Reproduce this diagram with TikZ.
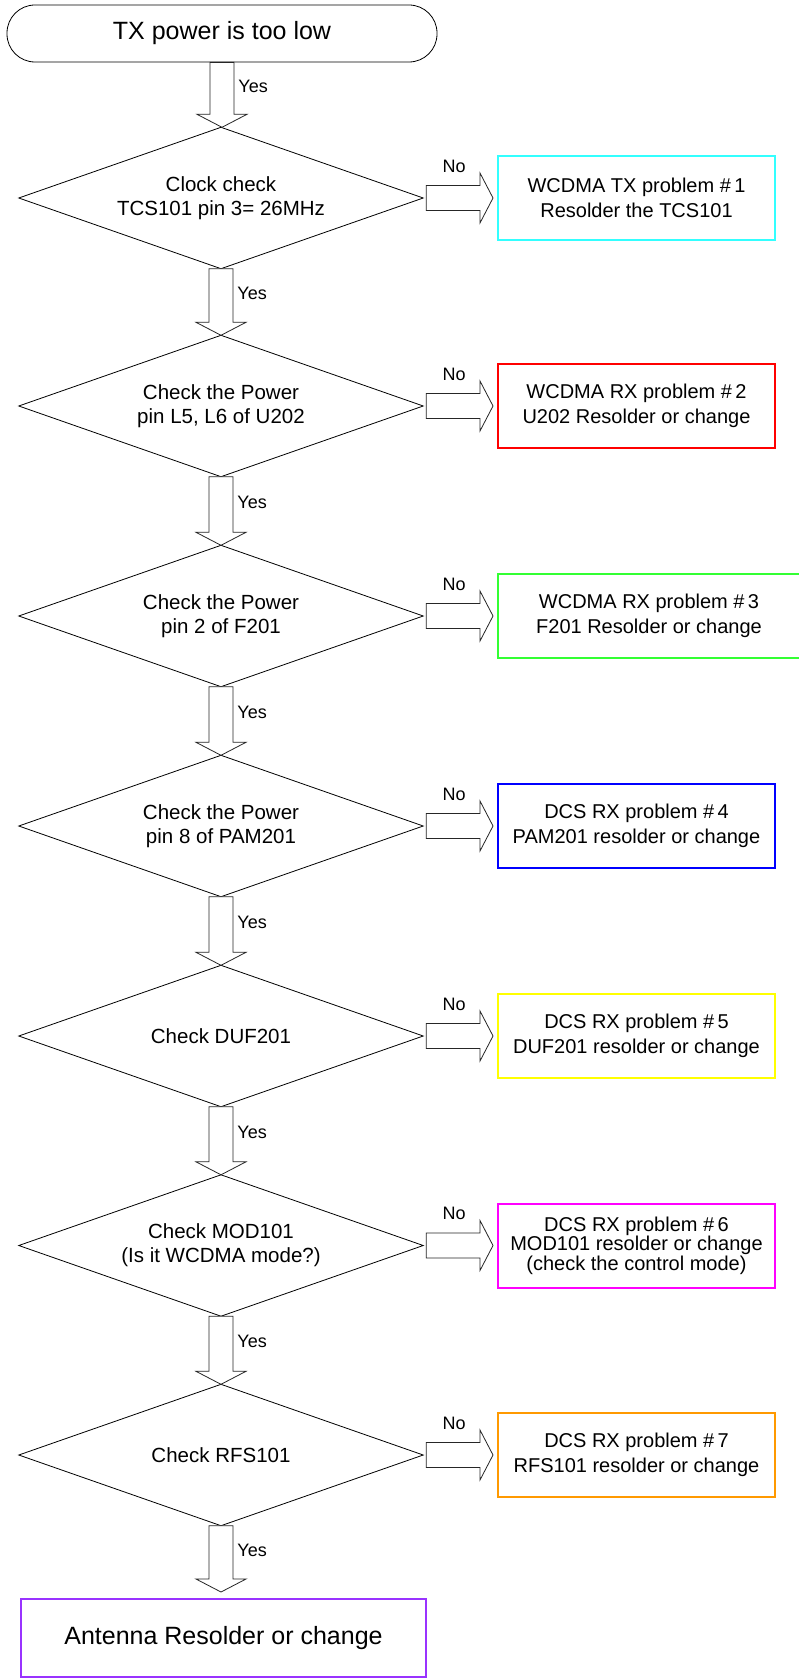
\documentclass[tikz,border=0pt]{standalone}
\usepackage{fontspec}
\setmainfont{Liberation Sans}
\usetikzlibrary{calc}
\definecolor{ccyan}{RGB}{51,255,255}
\definecolor{cred}{RGB}{255,0,0}
\definecolor{cgreen}{RGB}{51,255,51}
\definecolor{cblue}{RGB}{0,0,255}
\definecolor{cyellow}{RGB}{255,255,0}
\definecolor{cmagenta}{RGB}{255,0,255}
\definecolor{corange}{RGB}{255,153,0}
\definecolor{cpurple}{RGB}{153,51,255}
\tikzset{
  termbox/.style={draw, line width=0.8pt, rounded corners=28pt, minimum width=430pt, minimum height=57pt, inner sep=0pt, font=\fontsize{25}{29}\selectfont},
  decbox/.style={minimum width=404pt, minimum height=141pt, inner sep=0pt, align=center, font=\fontsize{20.5}{24}\selectfont},
  decline/.style={draw, line width=0.8pt, line join=miter},
  fixbox/.style={draw=#1, line width=2pt, minimum width=277pt, minimum height=84pt, inner sep=0pt, align=center, font=\fontsize{20}{25}\selectfont},
  lbl/.style={font=\fontsize{18}{20}\selectfont, inner sep=0pt},
  blockarrow/.style={draw=black!85, line width=0.8pt, fill=white, line join=miter},
}
\newcommand\diamondof[1]{%
  \draw[decline] (#1.north) -- (#1.east) -- (#1.south) -- (#1.west) -- cycle;
}
\newcommand\varrowto[2]{%
  \draw[blockarrow] let \p1=(#1), \p2=(#2) in
    (\x1-12pt,\y1) -- (\x1-12pt,\y2+13pt) -- (\x1-25pt,\y2+13pt) -- (\x1,\y2)
    -- (\x1+25pt,\y2+13pt) -- (\x1+12pt,\y2+13pt)
    -- node[lbl, anchor=west, xshift=4pt, yshift=2pt]{Yes} (\x1+12pt,\y1) -- cycle;
}
\newcommand\harrowto[2]{%
  \draw[blockarrow] let \p1=($(#1.east)+(3,0)$), \p2=($(#2.west)+(-4,0)$) in
    (\x1,\y1+12.5pt) -- (\x2-13pt,\y1+12.5pt) -- (\x2-13pt,\y1+25pt) -- (\x2,\y1)
    -- (\x2-13pt,\y1-25pt) -- (\x2-13pt,\y1-12.5pt) -- (\x1,\y1-12.5pt) -- cycle
    (\x1+28pt,\y1+32pt) node[lbl]{No};
}
\begin{document}
\begin{tikzpicture}[x=1pt,y=-1pt]
\useasboundingbox[fill=white] (0,0) rectangle (799,1680);

\node[termbox] (start) at (222,33.5) {TX power is too low};

\node[decbox] (d1) at (221,198) {Clock check\\TCS101 pin 3= 26MHz};
\node[decbox] (d2) at (221,406) {Check the Power\\pin L5, L6 of U202};
\node[decbox] (d3) at (221,616) {Check the Power\\pin 2 of F201};
\node[decbox] (d4) at (221,826) {Check the Power\\pin 8 of PAM201};
\node[decbox] (d5) at (221,1036) {Check DUF201};
\node[decbox] (d6) at (221,1245.5) {Check MOD101\\(Is it WCDMA mode?)};
\node[decbox] (d7) at (221,1455) {Check RFS101};
\diamondof{d1}
\diamondof{d2}
\diamondof{d3}
\diamondof{d4}
\diamondof{d5}
\diamondof{d6}
\diamondof{d7}

\node[fixbox=ccyan] (b1) at (636.5,198) {WCDMA TX problem \#\,1\\Resolder the TCS101};
\node[fixbox=cred] (b2) at (636.5,406) {WCDMA RX problem \#\,2\\U202 Resolder or change};
\node[fixbox=cgreen, minimum width=302pt] (b3) at (649,616) {WCDMA RX problem \#\,3\\F201 Resolder or change};
\node[fixbox=cblue] (b4) at (636.5,826) {DCS RX problem \#\,4\\PAM201 resolder or change};
\node[fixbox=cyellow] (b5) at (636.5,1036) {DCS RX problem \#\,5\\DUF201 resolder or change};
\node[fixbox=cmagenta, font=\fontsize{20}{17.5}\selectfont] (b6) at (636.5,1245.5) {DCS RX problem \#\,6\\MOD101 resolder or change\\(check the control mode)};
\node[fixbox=corange] (b7) at (636.5,1455) {DCS RX problem \#\,7\\RFS101 resolder or change};

\node[fixbox=cpurple, minimum width=405pt, minimum height=78pt, font=\fontsize{25}{29}\selectfont] (final) at (223.5,1638) {Antenna Resolder or change};

\varrowto{start.south}{d1.north}
\varrowto{d1.south}{d2.north}
\varrowto{d2.south}{d3.north}
\varrowto{d3.south}{d4.north}
\varrowto{d4.south}{d5.north}
\varrowto{d5.south}{d6.north}
\varrowto{d6.south}{d7.north}
\varrowto{d7.south}{$(final.north)+(0,-6)$}

\harrowto{d1}{b1}
\harrowto{d2}{b2}
\harrowto{d3}{b3}
\harrowto{d4}{b4}
\harrowto{d5}{b5}
\harrowto{d6}{b6}
\harrowto{d7}{b7}
\end{tikzpicture}
\end{document}
